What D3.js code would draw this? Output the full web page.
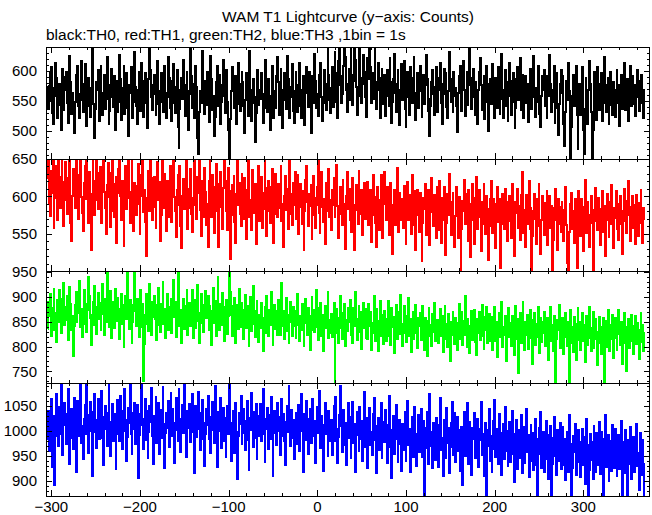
<!DOCTYPE html>
<html>
<head>
<meta charset="utf-8">
<script src="https://cdn.jsdelivr.net/npm/d3@7"></script>
<style>
  html, body { margin: 0; padding: 0; background: #fff; }
  svg { display: block; }
  text { font-family: "Liberation Sans", Arial, Helvetica, sans-serif; fill: #000; }
</style>
</head>
<body>
<svg id="chart" width="652" height="515"></svg>
<script>
// ---------- data ----------
const titleText = "WAM T1 Lightcurve (y\u2212axis: Counts)";
const subtitleText = "black:TH0, red:TH1, green:TH2, blue:TH3 ,1bin = 1s";
const timeStart = -304;   // first bin time (s)
const binSize = 1;        // 1bin = 1s
const xTicksMajor = [-300, -200, -100, 0, 100, 200, 300];
const seriesNames = ["TH0", "TH1", "TH2", "TH3"];
const seriesColors = ["#000000", "#ff0000", "#00ff00", "#0000ff"];
const yDomains = [[453, 640], [500.6, 650], [726.6, 952], [870, 1095.6]];

const TH0 = [
575,537,552,598,607,529,511,571,559,614,588,521,543,578,548,502,562,604,534,569,
590,599,546,513,557,625,581,528,564,538,497,548,594,574,608,541,522,561,617,552,
532,579,566,611,508,542,589,551,523,572,637,596,544,488,536,582,568,601,516,558,
609,547,526,564,593,537,583,623,554,511,533,576,603,557,539,591,502,567,584,531,
549,627,586,518,544,572,608,528,561,597,538,492,577,563,607,591,521,548,631,574,
541,512,569,599,553,533,613,584,523,564,596,547,504,543,586,641,602,557,534,576,
593,561,527,576,617,544,511,566,597,549,582,531,609,563,521,556,624,589,538,571,
517,584,612,547,529,573,602,506,471,536,569,588,553,618,577,524,546,598,566,502,
561,644,592,538,578,522,557,608,574,488,461,532,567,547,603,633,551,528,584,543,
599,546,514,569,625,587,534,558,491,523,581,609,564,542,594,512,548,576,619,559,
529,572,601,549,502,454,519,566,606,583,538,556,591,511,544,614,578,533,562,598,
582,541,497,552,596,563,524,611,634,568,516,547,587,557,481,529,576,602,543,569,
553,596,561,513,538,579,618,572,532,587,548,502,559,608,577,521,566,538,592,623,
581,527,547,603,569,504,551,597,564,536,625,587,543,522,573,557,611,533,513,566,
599,559,532,577,613,542,521,568,591,549,509,563,606,582,539,598,553,496,572,592,
547,628,583,538,561,524,594,573,614,556,517,546,602,578,534,564,648,593,551,529,
571,607,539,586,631,597,549,521,617,658,576,547,591,562,609,663,623,569,531,579,
603,552,637,594,543,583,647,618,573,527,559,611,667,588,546,578,627,599,557,523,
563,622,586,656,607,547,574,596,553,636,582,537,568,613,589,521,561,604,576,544,
593,524,558,602,572,541,621,581,513,548,587,629,564,532,578,601,542,509,569,611,
552,584,616,537,507,576,598,556,527,607,572,546,589,624,551,518,564,597,538,579,
608,566,523,559,593,544,576,627,586,533,554,491,541,582,602,562,526,573,606,547,
531,589,569,613,547,512,579,603,561,596,539,521,566,632,587,548,576,532,599,558,
572,541,498,563,592,609,552,533,581,617,569,524,557,598,543,576,639,588,536,564,
603,557,526,582,546,511,568,599,622,577,534,563,592,519,548,608,579,499,556,587,
544,576,611,566,522,589,558,538,606,573,528,594,629,553,521,569,601,542,581,516,
559,613,583,527,548,597,568,504,538,586,607,552,576,622,534,564,594,521,557,591,
546,579,514,563,603,573,537,594,625,556,523,572,548,608,581,528,506,559,592,568,
601,542,574,522,591,558,627,579,532,548,569,609,513,552,596,538,493,544,578,602,
563,591,511,474,532,583,551,614,567,521,451,506,559,594,542,573,608,527,469,547,
579,526,558,606,502,461,537,588,553,512,569,617,578,531,447,501,563,598,546,518,
607,566,534,579,549,597,517,546,623,576,532,559,589,511,543,599,571,527,582,553,
523,568,602,547,576,508,557,593,537,566,614,579,534,551,586,517,562,608,541,573,
591,544,577,524,561,601,556,533,583,547,594,564,522,569];

const TH1 = [
623,669,591,574,634,605,651,558,598,641,615,568,661,626,584,605,673,590,561,619,
646,595,576,625,610,656,565,541,601,636,614,585,680,621,592,570,629,660,599,578,
554,618,640,596,664,611,564,633,588,529,603,648,621,575,595,668,631,583,609,639,
593,565,624,654,606,585,550,615,645,599,631,559,580,651,616,573,596,626,538,604,
636,671,601,568,620,591,534,611,640,583,625,664,598,564,606,648,586,554,618,595,
575,614,643,590,550,628,601,658,579,609,566,520,598,634,614,581,665,624,568,605,
626,586,558,604,646,595,619,540,575,651,611,584,630,594,554,620,606,573,640,589,
566,615,660,599,580,546,608,629,589,641,561,531,601,623,583,613,653,596,556,585,
610,637,577,553,598,652,616,588,570,626,605,671,582,547,593,620,573,638,606,562,
590,533,620,650,602,572,628,597,551,612,643,580,600,532,616,633,586,557,611,652,
621,581,598,555,638,607,516,575,615,592,627,566,538,603,647,588,618,577,560,630,
601,570,625,586,543,608,652,618,573,595,555,635,600,578,616,536,585,611,641,567,
593,626,558,605,583,650,611,547,591,620,581,565,613,636,597,538,577,630,603,573,
616,585,607,641,567,590,533,600,627,582,610,556,593,647,576,603,562,618,588,633,
570,601,628,550,586,617,595,563,607,528,581,622,640,592,560,603,587,615,543,575,
627,598,558,588,612,648,578,551,605,632,586,566,597,537,618,580,608,636,572,595,
555,608,589,625,573,603,642,587,544,577,613,595,562,622,590,572,530,600,632,583,
610,568,597,553,624,589,529,582,615,599,563,634,592,577,608,549,585,618,570,602,
579,619,562,593,609,539,575,629,599,565,588,533,612,595,555,584,628,573,544,600,
633,590,568,613,582,549,599,618,572,523,589,609,562,595,638,579,553,605,587,568,
597,558,614,578,537,590,619,568,602,583,550,629,592,562,607,528,575,609,585,553,
605,572,514,565,598,583,617,549,588,608,569,535,593,624,579,560,602,572,544,612,
590,555,620,577,538,598,569,612,585,522,564,603,575,630,592,548,583,605,564,532,
574,613,589,545,599,567,489,557,594,580,622,563,603,584,540,608,573,519,590,617,
568,537,598,585,626,557,580,608,572,527,593,563,616,578,550,601,583,515,561,597,
620,578,551,596,570,531,590,612,566,597,575,505,563,603,586,556,610,580,540,593,
567,601,583,545,616,573,520,560,593,578,610,558,587,542,602,632,572,551,582,532,
602,563,590,621,556,585,486,547,580,603,570,537,596,576,617,560,523,568,600,583,
548,591,570,607,535,580,601,558,587,495,542,585,568,610,578,528,596,563,586,552,
593,571,540,582,613,562,511,481,553,590,572,605,557,581,538,597,570,505,560,607,
578,547,596,566,527,586,622,570,551,592,575,533,565,601,582,483,541,577,611,567,
555,598,576,535,583,566,607,552,587,520,568,603,573,546,592,563,615,578,531,585,
571,607,557,590,542,578,601,563,523,581,610,567,594,551,575,621,586,541,572,600,
558,588,568,536,602,575,547,591,565,608,580,538,585,570];

const TH2 = [
836,889,862,905,821,856,878,916,833,868,809,894,850,913,874,828,858,896,928,844,
880,854,901,813,866,920,886,834,861,781,841,883,909,850,891,868,931,839,875,820,
869,913,846,886,830,874,940,901,858,804,863,890,844,921,879,826,871,908,855,888,
834,881,926,866,824,895,850,968,874,840,885,911,818,859,889,838,916,870,851,898,
875,815,861,906,845,884,799,868,901,855,950,878,835,894,864,807,849,883,979,871,
841,896,858,820,874,914,839,885,731,805,863,906,846,878,831,925,868,824,890,859,
901,855,883,813,844,918,871,829,886,858,929,845,876,818,863,906,834,880,850,895,
828,874,934,859,889,820,868,976,906,841,873,808,855,896,836,881,860,914,824,865,
888,842,872,914,818,861,894,837,878,924,852,808,867,906,847,883,829,876,912,857,
866,902,834,882,852,803,871,917,848,891,822,874,939,859,833,886,844,908,866,812,
879,849,893,826,861,976,909,864,821,881,843,897,807,854,883,836,916,868,839,888,
859,816,873,904,837,882,848,802,866,899,831,877,921,846,819,872,892,853,810,864,
838,887,857,791,847,879,827,902,862,821,873,843,909,863,803,852,884,836,871,823,
893,852,824,876,928,842,871,816,858,897,832,864,807,849,889,868,822,879,841,861,
817,871,906,844,811,862,834,886,853,801,847,896,867,824,877,841,794,861,899,833,
874,829,859,914,839,813,878,848,887,822,864,792,843,882,837,871,909,818,854,827,
865,820,846,888,718,828,875,843,807,858,902,837,816,868,848,885,801,853,831,878,
850,893,823,865,808,878,841,910,856,813,848,882,830,870,796,852,888,837,875,818,
858,815,885,841,870,793,848,827,901,857,812,875,835,791,851,891,821,863,842,806,
872,833,811,856,892,822,851,803,878,840,860,786,837,883,816,851,870,826,903,845,
802,846,881,828,862,810,840,897,821,856,788,836,870,815,850,883,827,798,857,841,
868,813,842,882,825,793,858,835,780,851,878,821,843,802,866,830,887,811,847,826,
853,807,840,876,822,861,788,837,881,815,846,800,866,831,771,850,823,870,841,805,
857,827,793,848,885,816,838,870,803,852,823,901,833,800,856,821,786,842,872,813,
844,873,810,838,783,855,828,869,814,849,884,822,795,860,833,879,807,840,865,812,
830,860,794,842,879,812,850,778,833,868,819,854,889,800,839,823,862,770,848,829,
877,820,847,802,862,835,782,845,882,815,855,747,824,867,808,840,889,830,794,850,
823,863,795,843,874,817,853,765,832,867,804,845,820,880,835,787,858,810,849,828,
869,802,842,818,858,773,830,879,812,844,792,862,825,727,815,853,834,883,798,839,
817,857,785,834,868,820,802,849,718,829,873,807,840,789,860,824,773,845,877,813,
850,793,833,867,812,843,769,825,862,804,848,879,818,790,838,870,798,832,855,815,
762,829,860,808,840,784,820,857,710,812,852,800,874,830,792,844,815,863,777,835,
858,817,794,843,873,825,803,849,765,834,867,808,839,750,820,855,798,832,863,812,
842,784,827,862,805,847,819,775,833,868,810,844,792,828];

const TH3 = [
981,1039,960,1018,1063,928,1003,1030,891,989,1074,1008,970,1048,994,1106,1025,951,1011,1055,
1034,974,1001,1083,1015,934,985,1044,996,963,1066,1020,918,1006,1059,989,1028,1093,975,1010,
943,1024,1051,993,1103,1031,956,1000,1058,1014,909,990,1038,1073,998,966,1021,1064,983,1041,
1013,1080,986,931,1028,1050,1004,970,1036,1091,995,949,1018,1053,979,1033,1009,923,994,1061,
1026,980,1069,1010,963,1040,999,1083,1021,939,988,1045,1015,1099,993,953,1035,1004,1056,973,
1003,1051,906,991,1034,1011,1100,1023,964,1008,1063,981,1040,945,998,1049,1018,1085,989,933,
1029,1000,1068,975,1020,1055,954,1009,1041,986,1088,1014,926,995,1036,1005,1059,968,1025,1075,
990,1044,1016,935,1001,1065,1033,980,1084,1010,958,1024,1051,996,1094,1018,948,985,1039,1006,
1054,978,1013,1073,998,916,1021,1050,988,1030,1078,1004,961,1035,983,1061,1015,930,994,1043,
1011,1069,984,1028,955,1001,1058,1020,975,1089,1009,928,991,1038,999,1066,966,1024,1046,980,
1026,948,1005,1049,993,1095,1016,939,986,1040,1006,956,1055,998,904,990,1035,1013,1070,974,
996,1044,1020,961,1004,1060,981,921,1025,1001,1076,1015,968,1038,986,1054,944,1009,1030,989,
1053,979,1011,1083,994,938,1023,1003,1045,963,1031,984,1068,1008,910,995,1039,1016,971,1056,
1000,1028,951,1010,1064,990,1034,980,931,1018,1049,998,1090,1013,969,1041,986,1021,943,1005,
1036,974,1016,1051,959,999,1073,1009,918,993,1033,981,1059,1023,954,1003,1044,976,1026,1063,
989,1019,935,1006,1048,995,1079,1015,966,1030,985,920,1011,1056,993,1025,950,1040,1003,979,
1021,951,997,1050,980,1068,1003,936,987,1032,1090,1010,958,993,1041,972,1015,931,1001,1055,
986,1028,945,997,1058,975,1013,917,992,1037,1002,960,1048,983,1020,940,1006,1078,968,1026,
995,926,1018,1045,972,998,952,1033,1065,981,1010,916,988,1025,961,1006,1055,946,985,1017,
977,1041,996,935,1011,1070,967,990,906,1001,1030,953,983,1051,1007,938,973,1021,997,920,
1013,961,987,1037,940,995,1060,971,1003,917,982,1027,948,1008,1047,976,930,993,1032,957,
992,1043,947,976,1020,817,965,1006,1038,933,987,1073,970,997,926,1015,983,941,1026,973,
1000,928,1011,1065,962,986,910,1022,995,946,1046,976,1005,915,967,1016,1057,951,990,1035,
938,983,1028,960,1002,920,973,1008,891,992,1038,950,996,1055,970,933,1018,986,911,1006,
984,1036,946,997,967,1024,928,1003,981,1057,951,993,909,974,1016,826,969,1001,1043,939,
989,918,963,1019,1062,948,983,1004,933,1034,962,996,911,977,1013,943,1048,959,999,929,
973,1017,938,987,1039,954,898,993,967,1022,924,1001,946,982,1031,916,964,1008,936,988,
1044,957,992,908,974,1012,939,996,922,968,1023,932,822,984,1006,953,1037,926,962,998,
918,976,1019,943,991,904,964,1009,828,933,986,1028,949,972,912,1001,939,982,1016,923,
967,1008,932,983,901,953,997,917,1031,946,974,817,926,989,958,1013,911,969,937,1002,
977,908,959,1004,931,987,894,951,1024,971,818,922,993,942,978,904,1009,948,918,996,
932,976,1017,914,962,998,938,833,983,1031,928,954,991,899,946,979,919,1012,964,926,
1003,943,909,969,992,923,958,1019,842,936,977,916,1001,952,824,981,933,1008,903,962,
938,987,917,973,1014,929,956,882,996,946,911,982,934,839];

const seriesValues = [TH0, TH1, TH2, TH3];

// ---------- layout ----------
const plotLeft = 46, plotRight = 650;
const panelTops = [47, 159, 271, 383];
const panelBottoms = [159, 271, 383, 496];

const svg = d3.select("#chart");
const x = d3.scaleLinear().domain([-306.0, 375.2]).range([plotLeft, plotRight]);

svg.append("text")
  .attr("x", 348).attr("y", 22)
  .attr("text-anchor", "middle")
  .style("font-size", "15.5px")
  .text(titleText);
svg.append("text")
  .attr("x", 46).attr("y", 40)
  .attr("text-anchor", "start")
  .style("font-size", "15.5px")
  .text(subtitleText);

const fmt = v => (v < 0 ? "\u2212" + Math.abs(v) : String(v));

seriesValues.forEach((vals, k) => {
  const top = panelTops[k], bottom = panelBottoms[k];
  const y = d3.scaleLinear().domain(yDomains[k]).range([bottom, top]);
  const g = svg.append("g");

  const clipId = "clip" + k;
  svg.append("clipPath").attr("id", clipId)
    .append("rect")
    .attr("x", plotLeft).attr("y", top)
    .attr("width", plotRight - plotLeft).attr("height", bottom - top);

  const pts = vals.map((v, i) => [timeStart + i * binSize, v]);
  const line = d3.line()
    .x(d => x(d[0]))
    .y(d => y(d[1]))
    .curve(d3.curveStep);

  g.append("path")
    .datum(pts)
    .attr("clip-path", `url(#${clipId})`)
    .attr("fill", "none")
    .attr("stroke", seriesColors[k])
    .attr("stroke-width", 2)
    .attr("shape-rendering", "crispEdges")
    .attr("d", line);

  g.append("rect")
    .attr("x", plotLeft + 0.5).attr("y", top + 0.5)
    .attr("width", plotRight - plotLeft - 1).attr("height", bottom - top)
    .attr("fill", "none").attr("stroke", "#000").attr("stroke-width", 1)
    .attr("shape-rendering", "crispEdges");

  const [y0, y1] = yDomains[k];
  const yMinor = d3.range(Math.ceil(y0 / 10) * 10, y1 + 0.001, 10);
  yMinor.forEach(v => {
    const major = v % 50 === 0;
    const len = major ? 6 : 3;
    const yy = Math.round(y(v)) + 0.5;
    g.append("line").attr("x1", plotLeft).attr("x2", plotLeft + len)
      .attr("y1", yy).attr("y2", yy).attr("stroke", "#000")
      .attr("shape-rendering", "crispEdges");
    g.append("line").attr("x1", plotRight - len).attr("x2", plotRight)
      .attr("y1", yy).attr("y2", yy).attr("stroke", "#000")
      .attr("shape-rendering", "crispEdges");
    if (major) {
      svg.append("text")
        .attr("x", 37).attr("y", y(v))
        .attr("dy", "0.36em")
        .attr("text-anchor", "end")
        .style("font-size", "15px")
        .text(fmt(v));
    }
  });

  const xMinor = d3.range(-300, 375, 20);
  xMinor.forEach(v => {
    const major = v % 100 === 0;
    const len = major ? 6 : 3;
    const xx = Math.round(x(v)) + 0.5;
    g.append("line").attr("x1", xx).attr("x2", xx)
      .attr("y1", top).attr("y2", top + len).attr("stroke", "#000")
      .attr("shape-rendering", "crispEdges");
    g.append("line").attr("x1", xx).attr("x2", xx)
      .attr("y1", bottom - len).attr("y2", bottom).attr("stroke", "#000")
      .attr("shape-rendering", "crispEdges");
  });
});

xTicksMajor.forEach(v => {
  svg.append("text")
    .attr("x", x(v)).attr("y", 512)
    .attr("text-anchor", "middle")
    .style("font-size", "15px")
    .text(fmt(v));
});
</script>
</body>
</html>
